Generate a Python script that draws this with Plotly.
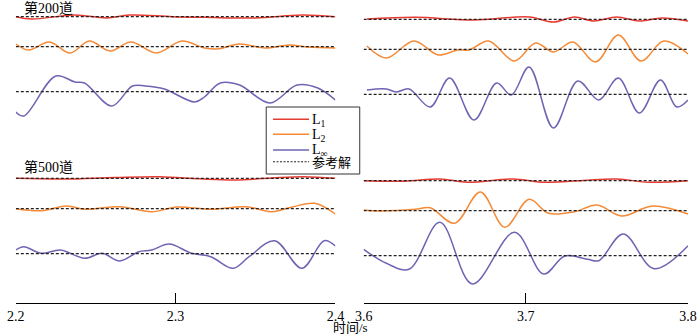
import plotly.graph_objects as go

# ---------------- data (amplitude relative to reference solution) ----------------
# Trace 200, time window 2.2-2.4 s
T200_L1 = [2.200, 2.210, 2.237, 2.257, 2.271, 2.298, 2.318, 2.350, 2.379, 2.400]
A200_L1 = [0.0, -2.3, 1.7, -1.3, 1.7, 0.0, -0.6, -1.3, 1.7, 0.0]
T200_L2 = [2.200, 2.208, 2.221, 2.234, 2.246, 2.259, 2.272, 2.288, 2.304, 2.318,
           2.326, 2.340, 2.356, 2.371, 2.383, 2.400]
A200_L2 = [2.7, -3.3, 4.7, -6.3, 5.7, -4.3, 4.7, -6.3, 5.7, -1.3,
           -2.3, 2.7, -1.3, 1.7, -0.3, -1.3]
T200_LI = [2.200, 2.205, 2.225, 2.237, 2.243, 2.260, 2.273, 2.281, 2.293, 2.312,
           2.318, 2.328, 2.340, 2.359, 2.376, 2.389, 2.400]
A200_LI = [-20.3, -24.3, 15.7, 9.7, 8.7, -14.3, 5.7, 5.7, 2.7, -10.3,
           -5.3, 8.7, 6.7, -11.3, 6.7, 3.7, -8.3]

# Trace 200, time window 3.6-3.8 s
T200R_L1 = [3.602, 3.632, 3.668, 3.702, 3.717, 3.730, 3.742, 3.756, 3.770, 3.784, 3.800]
A200R_L1 = [0.3, 2.0, -0.7, 2.3, -2.7, 2.3, -1.7, 2.3, -1.7, 1.3, -1.7]
T200R_L2 = [3.602, 3.614, 3.631, 3.646, 3.658, 3.665, 3.677, 3.693, 3.706, 3.717,
            3.729, 3.743, 3.757, 3.771, 3.785, 3.800]
A200R_L2 = [3.3, -8.7, 8.3, -5.7, -0.7, -0.7, 8.3, -11.7, 6.3, -2.7,
            7.3, -12.7, 14.3, -11.7, 8.3, -4.7]
T200R_LI = [3.602, 3.614, 3.620, 3.628, 3.641, 3.653, 3.668, 3.682, 3.691, 3.702,
            3.717, 3.732, 3.745, 3.757, 3.770, 3.783, 3.793, 3.800]
A200R_LI = [4.3, 5.3, 2.3, 5.3, -12.7, 16.3, -25.7, 11.3, -0.7, 27.3,
            -33.7, 13.3, -5.7, 16.3, -18.7, 14.3, -12.7, -5.7]

# Trace 500, time window 2.2-2.4 s
T500_L1 = [2.200, 2.230, 2.262, 2.290, 2.315, 2.337, 2.360, 2.380, 2.400]
A500_L1 = [0.0, -0.8, 0.8, 1.6, -0.5, -1.7, 0.3, 1.6, 0.0]
T500_L2 = [2.200, 2.216, 2.232, 2.243, 2.265, 2.285, 2.301, 2.322, 2.344, 2.360,
           2.373, 2.387, 2.400]
A500_L2 = [0.0, -2.0, 2.7, -0.6, 2.0, -3.0, 1.7, -0.6, 2.0, -3.0,
           1.7, 5.4, -5.3]
T500_LI = [2.200, 2.205, 2.216, 2.228, 2.243, 2.254, 2.265, 2.277, 2.285, 2.296,
           2.310, 2.322, 2.336, 2.346, 2.362, 2.379, 2.393, 2.400]
A500_LI = [3.7, 7.0, 0.4, 3.7, -4.6, 0.4, -7.3, 2.0, 3.7, 9.7,
           0.4, -3.0, -14.6, -3.0, 13.0, -14.6, 13.0, 7.7]

# Trace 500, time window 3.6-3.8 s
T500R_L1 = [3.600, 3.625, 3.647, 3.664, 3.692, 3.712, 3.735, 3.756, 3.776, 3.800]
A500R_L1 = [0.0, -0.5, 1.7, -1.6, 1.7, -1.6, 0.3, 1.7, -1.6, 0.0]
T500R_L2 = [3.600, 3.610, 3.632, 3.641, 3.656, 3.672, 3.687, 3.702, 3.714, 3.730,
            3.744, 3.759, 3.778, 3.800]
A500R_L2 = [0.7, -0.3, 1.4, 3.0, -12.6, 18.7, -16.6, 11.4, -2.6, -1.0,
            5.7, -5.3, 4.7, -3.3]
T500R_LI = [3.600, 3.614, 3.628, 3.647, 3.667, 3.693, 3.711, 3.724, 3.738, 3.745,
            3.760, 3.779, 3.800]
A500R_LI = [6.4, -7.6, -13.6, 33.4, -28.3, 23.4, -18.3, -0.3, -3.6, -5.0,
            21.7, -13.0, 10.0]

# reference solution (zero deviation) over each window
REF_LEFT_T = [2.2, 2.4]
REF_RIGHT_T = [3.6, 3.8]
REF_VAL = [0.0, 0.0]

X_TICKS_LEFT = [2.2, 2.3, 2.4]
X_TICKS_RIGHT = [3.6, 3.7, 3.8]
PANEL_LABELS = ["第200道", "第500道"]
SERIES_NAMES = ["L<sub>1</sub>", "L<sub>2</sub>", "L<sub>∞</sub>", "参考解"]
AXIS_TITLE = "时间/s"

# ---------------- styling / layout ----------------
COLORS = ["#e63b33", "#f58a37", "#6d64b3"]
REF_COLOR = "#222222"
REF_DASH = "3px,2px"
FONT = "Liberation Serif, Times New Roman, Noto Sans CJK SC, serif"
PH = 303.0  # plot-area height in px (top margin 0)
PW = 700.0

# vertical offsets of each row (plot units)
OFF = {
    ("200", "L"): [286.3, 256.3, 211.3],
    ("200", "R"): [283.7, 253.7, 208.7],
    ("500", "L"): [124.7, 94.3, 49.3],
    ("500", "R"): [122.3, 92.3, 47.3],
}

fig = go.Figure()

def add_group(key, xa, ya, series, ref_t):
    offs = OFF[key]
    for i, (t, a) in enumerate(series):
        fig.add_trace(go.Scatter(
            x=t, y=[v + offs[i] for v in a], mode="lines",
            line=dict(color=COLORS[i], width=1.5, shape="spline", smoothing=1.0),
            name=SERIES_NAMES[i], showlegend=False, xaxis=xa, yaxis=ya, hoverinfo="skip"))
    for i in range(3):
        fig.add_trace(go.Scatter(
            x=ref_t, y=[v + offs[i] for v in REF_VAL], mode="lines",
            line=dict(color=REF_COLOR, width=1.3, dash=REF_DASH),
            name=SERIES_NAMES[3], showlegend=False, xaxis=xa, yaxis=ya, hoverinfo="skip"))

add_group(("200", "L"), "x", "y",
          [(T200_L1, A200_L1), (T200_L2, A200_L2), (T200_LI, A200_LI)], REF_LEFT_T)
add_group(("500", "L"), "x", "y",
          [(T500_L1, A500_L1), (T500_L2, A500_L2), (T500_LI, A500_LI)], REF_LEFT_T)
add_group(("200", "R"), "x2", "y2",
          [(T200R_L1, A200R_L1), (T200R_L2, A200R_L2), (T200R_LI, A200R_LI)], REF_RIGHT_T)
add_group(("500", "R"), "x2", "y2",
          [(T500R_L1, A500R_L1), (T500R_L2, A500R_L2), (T500R_LI, A500R_LI)], REF_RIGHT_T)

xcommon = dict(showline=True, linecolor="black", linewidth=1, ticks="inside", ticklen=10,
               tickcolor="black", tickwidth=1, showgrid=False, zeroline=False,
               tickfont=dict(family=FONT, size=14, color="black"), fixedrange=True)
ycommon = dict(visible=False, range=[0, PH], showgrid=False, zeroline=False, fixedrange=True)

def px_x(px):
    return px / PW

def px_y(py):
    return 1 - py / PH

# compact legend box, like the original
LEG_BOX = (264, 107, 360, 174)
LEG_ROWS = [119.3, 134.3, 150, 161.7]
shapes = [dict(type="rect", xref="paper", yref="paper",
               x0=px_x(LEG_BOX[0]), x1=px_x(LEG_BOX[2]),
               y0=px_y(LEG_BOX[1]), y1=px_y(LEG_BOX[3]),
               fillcolor="white", line=dict(color="#333333", width=1), layer="above")]
annotations = []
for i, name in enumerate(SERIES_NAMES):
    color = COLORS[i] if i < 3 else REF_COLOR
    dash = "solid" if i < 3 else "2px,1.5px"
    shapes.append(dict(type="line", xref="paper", yref="paper",
                       x0=px_x(271), x1=px_x(308), y0=px_y(LEG_ROWS[i]), y1=px_y(LEG_ROWS[i]),
                       line=dict(color=color, width=1.5 if i < 3 else 1.1, dash=dash),
                       layer="above"))
    annotations.append(dict(text=name, x=px_x(310),
                            y=px_y(LEG_ROWS[i] + (1.0 if i < 3 else 0.3)),
                            xref="paper", yref="paper", xanchor="left", yanchor="middle",
                            showarrow=False, borderpad=0,
                            font=dict(family=FONT, size=14 if i < 3 else 13, color="black")))

annotations += [
    dict(text=PANEL_LABELS[0], x=px_x(14), y=px_y(8), xref="paper", yref="paper",
         xanchor="left", yanchor="middle", showarrow=False, borderpad=0,
         font=dict(family=FONT, size=14, color="black")),
    dict(text=PANEL_LABELS[1], x=px_x(14), y=px_y(167), xref="paper", yref="paper",
         xanchor="left", yanchor="middle", showarrow=False, borderpad=0,
         font=dict(family=FONT, size=14, color="black")),
    dict(text=AXIS_TITLE, x=0.5, y=px_y(327), xref="paper", yref="paper",
         xanchor="center", yanchor="middle", showarrow=False, borderpad=0,
         font=dict(family=FONT, size=13, color="black")),
]

fig.update_layout(
    width=700, height=334,
    margin=dict(l=0, r=0, t=0, b=31),
    paper_bgcolor="white", plot_bgcolor="white",
    xaxis=dict(domain=[7 / PW, 335 / PW], range=[2.2, 2.4], tickvals=X_TICKS_LEFT,
               ticktext=[str(v) for v in X_TICKS_LEFT], anchor="y", **xcommon),
    xaxis2=dict(domain=[364 / PW, 697 / PW], range=[3.6, 3.8], tickvals=X_TICKS_RIGHT,
                ticktext=[str(v) for v in X_TICKS_RIGHT], anchor="y2", **xcommon),
    yaxis=dict(domain=[0, 1], anchor="x", **ycommon),
    yaxis2=dict(domain=[0, 1], anchor="x2", **ycommon),
    showlegend=False,
    shapes=shapes,
    annotations=annotations,
)

fig.write_html("out.html", config={"displayModeBar": False, "staticPlot": True},
               post_script="document.body.style.margin='0';document.body.style.overflow='hidden';")
